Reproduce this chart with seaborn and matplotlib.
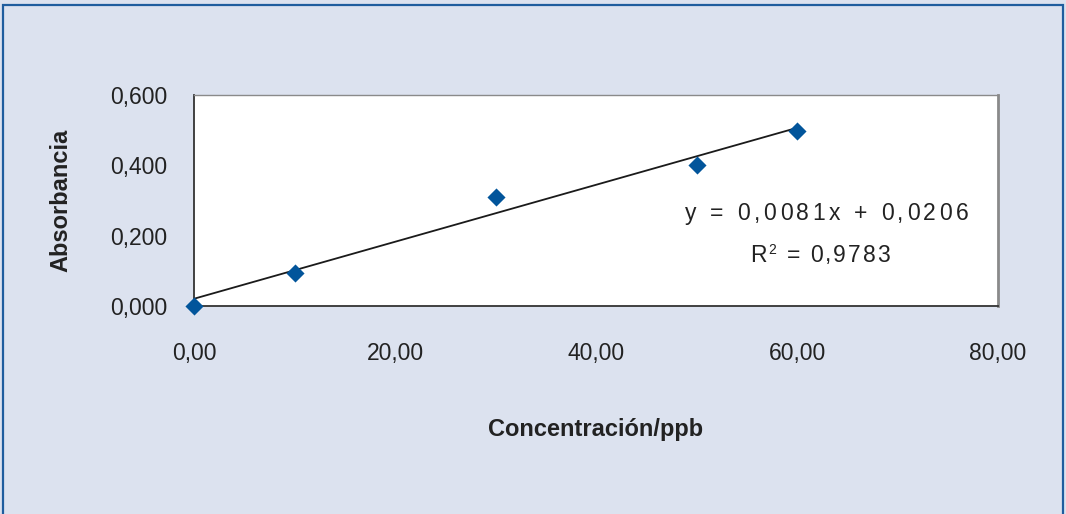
import numpy as np
import pandas as pd
import matplotlib
matplotlib.use("Agg")
import matplotlib.pyplot as plt
from matplotlib.patches import Rectangle
from matplotlib.font_manager import FontProperties, findfont, get_font
import seaborn as sns

# ---- data ----
concentracion = [0, 10, 30, 50, 60]
absorbancia = [0.000, 0.095, 0.311, 0.401, 0.497]
pendiente = 0.0081
intercepto = 0.0206
r2 = 0.9783
x_ticks = [0, 20, 40, 60, 80]
x_tick_labels = ["0,00", "20,00", "40,00", "60,00", "80,00"]
y_ticks = [0.0, 0.2, 0.4, 0.6]
y_tick_labels = ["0,000", "0,200", "0,400", "0,600"]
ecuacion = "y = 0,0081x + 0,0206"
texto_r2 = "R² = 0,9783"

sns.set_style("white")
plt.rcParams['font.family'] = ['Liberation Sans', 'DejaVu Sans']

BG = "#dce2ef"
MARK = "#02559b"
FS = 16.5
TXT = "#222222"

fig = plt.figure(figsize=(10.66, 5.14), dpi=100, facecolor=BG)
W, H = 1066, 514
ax = fig.add_axes([194 / W, 1 - 306 / H, (998 - 194) / W, (306 - 95) / H])
ax.set_facecolor("white")

df = pd.DataFrame({"x": concentracion, "y": absorbancia})
x_fit = np.array([min(concentracion), max(concentracion)])
fit = pd.DataFrame({"x": x_fit, "y": pendiente * x_fit + intercepto})

sns.lineplot(data=fit, x="x", y="y", ax=ax, color="#1a1a1a", linewidth=1.3, zorder=2)
sns.scatterplot(data=df, x="x", y="y", ax=ax, marker="D", s=85, color=MARK,
                linewidth=0, zorder=3, clip_on=False)

ax.set_xlim(0, 80)
ax.set_ylim(0, 0.6)
ax.set_xticks(x_ticks)
ax.set_xticklabels(x_tick_labels, fontsize=FS, color=TXT)
ax.set_yticks(y_ticks)
ax.set_yticklabels(y_tick_labels, fontsize=FS, color=TXT)
ax.tick_params(axis="both", direction="out", length=7, width=1.2, color="#333333")
ax.tick_params(axis="x", pad=19)
ax.tick_params(axis="y", pad=12)

ax.set_xlabel("Concentración/ppb", fontsize=17, fontweight="bold", color=TXT, labelpad=38)
ax.set_ylabel("Absorbancia", fontsize=17, fontweight="bold", color=TXT, labelpad=27)

for side in ["left", "bottom"]:
    ax.spines[side].set_color("#333333")
    ax.spines[side].set_linewidth(1.3)
ax.spines["top"].set_color("#8a8a8a")
ax.spines["top"].set_linewidth(1.0)
ax.spines["right"].set_color("#8a8a8a")
ax.spines["right"].set_linewidth(2.0)
for s in ax.spines.values():
    s.set_visible(True)

prop = FontProperties(family=['Liberation Sans', 'DejaVu Sans'], size=FS)
ft = get_font(findfont(FontProperties(family='Liberation Sans')))
ft.set_size(FS, 100)


def advance(ch):
    g = ft.load_char(ord(ch))
    return g.linearHoriAdvance / 65536.0


def spaced_text(cx, cy, s, gap):
    advs = [advance(c) for c in s]
    total = sum(advs) + gap * (len(s) - 1)
    pen = cx - total / 2
    for ch, a in zip(s, advs):
        if ch != " ":
            if ch == "²":
                fig.text((pen + a / 2) / W, 1 - (cy - 5) / H, "2", ha="center", va="center",
                         fontsize=10, color=TXT)
            else:
                fig.text((pen + a / 2) / W, 1 - cy / H, ch, ha="center", va="center",
                         fontproperties=prop, color=TXT)
        pen += a + gap


spaced_text(827, 213, ecuacion, 3.6)
spaced_text(820, 255, texto_r2, 2.0)

fig.patches.append(Rectangle((3 / W, -0.05), (1063 - 3) / W, 1 - 5 / H + 0.05,
                             transform=fig.transFigure, fill=False,
                             edgecolor="#1f5d9e", linewidth=1.6))

fig.savefig("out.png", dpi=100, facecolor=BG)
